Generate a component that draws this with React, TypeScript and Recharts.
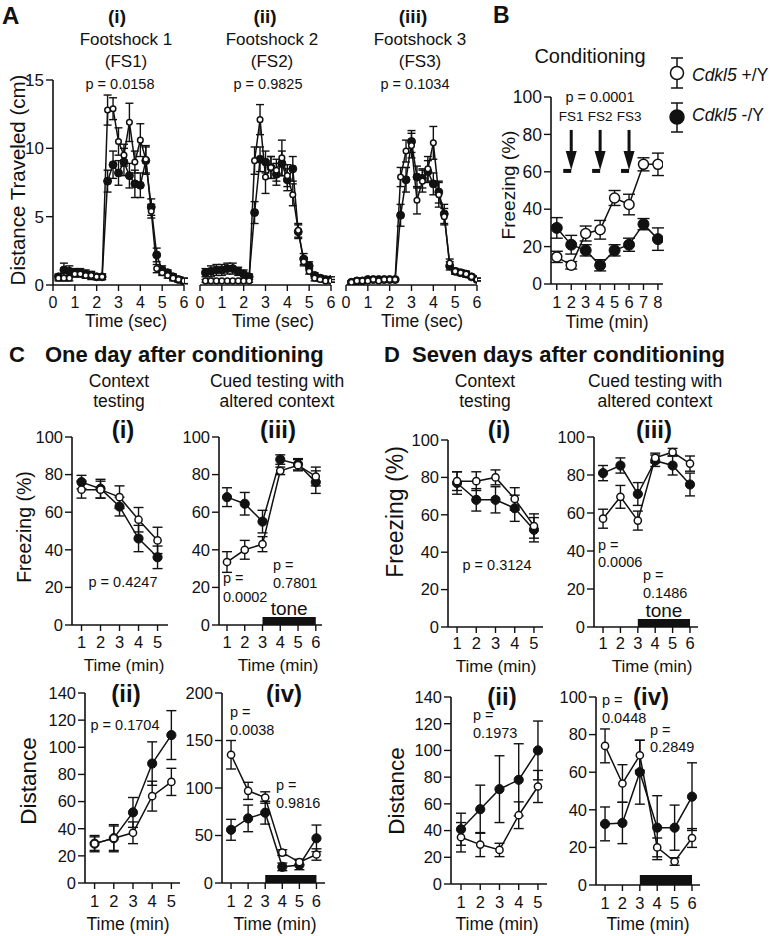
import React from "react";
import { LineChart, Line, XAxis, YAxis, ErrorBar, ReferenceArea, ReferenceDot } from "recharts";

const FONT = "'Liberation Sans', Arial, Helvetica, sans-serif";
const INK = "#111";

// ---- A: distance traveled around each footshock, 0.25 s bins ----
const A_TIME = [0.25, 0.5, 0.75, 1, 1.25, 1.5, 1.75, 2, 2.25, 2.5, 2.75, 3, 3.25, 3.5, 3.75, 4, 4.25, 4.5, 4.75, 5, 5.25, 5.5, 5.75, 6];
const A_TICKS = [0, 1, 2, 3, 4, 5, 6];
const A_Y_TICKS = [0, 5, 10, 15];

const A1_WT = [0.5, 0.5, 0.5, 0.8, 0.8, 0.7, 0.7, 0.6, 0.6, 12.8, 12.9, 10.5, 9.5, 11.9, 9.0, 10.6, 9.2, 5.4, 1.2, 0.9, 0.7, 0.5, 0.4, 0.3];
const A1_WT_ERR = [0.2, 0.2, 0.2, 0.2, 0.2, 0.2, 0.2, 0.2, 0.2, 1.1, 0.8, 1.0, 0.8, 1.4, 0.8, 1.2, 1.0, 0.5, 0.3, 0.2, 0.2, 0.2, 0.2, 0.2];
const A1_KO = [0.6, 1.1, 1.0, 0.9, 0.9, 0.8, 0.7, 0.6, 0.6, 7.6, 8.8, 8.2, 9.0, 8.0, 7.4, 7.3, 9.1, 5.7, 2.2, 1.1, 0.9, 0.6, 0.4, 0.3];
const A1_KO_ERR = [0.2, 0.5, 0.4, 0.3, 0.3, 0.3, 0.3, 0.2, 0.2, 0.8, 1.0, 0.9, 1.0, 0.9, 1.0, 0.9, 1.0, 0.6, 0.5, 0.3, 0.2, 0.2, 0.2, 0.2];

const A2_WT = [0.3, 0.3, 0.3, 0.3, 0.3, 0.3, 0.3, 0.3, 0.3, 9.1, 12.1, 7.9, 8.6, 8.4, 9.3, 8.0, 6.6, 4.0, 1.7, 1.0, 0.5, 0.4, 0.3, 0.3];
const A2_WT_ERR = [0.1, 0.1, 0.1, 0.1, 0.1, 0.1, 0.1, 0.1, 0.1, 1.0, 1.1, 1.2, 0.8, 0.8, 1.3, 0.8, 0.8, 0.5, 0.3, 0.2, 0.2, 0.1, 0.1, 0.1];
const A2_KO = [0.9, 1.0, 1.1, 1.1, 1.2, 1.2, 1.0, 0.8, 0.6, 5.3, 9.2, 9.0, 8.6, 8.1, 8.9, 7.7, 8.5, 3.9, 1.9, 1.4, 0.7, 0.5, 0.4, 0.4];
const A2_KO_ERR = [0.3, 0.4, 0.4, 0.4, 0.4, 0.4, 0.3, 0.3, 0.2, 0.8, 0.9, 0.8, 0.8, 0.8, 0.9, 0.8, 0.9, 0.5, 0.4, 0.3, 0.2, 0.2, 0.2, 0.2];

const A3_WT = [0.2, 0.3, 0.3, 0.3, 0.4, 0.3, 0.4, 0.4, 0.4, 7.9, 9.8, 10.2, 6.2, 7.6, 8.5, 10.4, 6.6, 5.0, 1.6, 1.0, 0.9, 0.8, 0.6, 0.4];
const A3_WT_ERR = [0.1, 0.1, 0.1, 0.1, 0.1, 0.1, 0.1, 0.1, 0.1, 0.7, 0.8, 0.9, 1.0, 0.8, 0.9, 1.2, 0.9, 0.6, 0.3, 0.2, 0.2, 0.2, 0.1, 0.1];
const A3_KO = [0.2, 0.3, 0.3, 0.4, 0.4, 0.4, 0.4, 0.4, 0.4, 5.1, 7.7, 10.5, 7.9, 7.8, 8.3, 7.4, 6.8, 5.2, 1.4, 1.0, 0.9, 0.8, 0.6, 0.4];
const A3_KO_ERR = [0.1, 0.1, 0.1, 0.1, 0.1, 0.1, 0.1, 0.1, 0.1, 0.8, 0.9, 0.8, 0.8, 0.7, 0.8, 0.8, 0.8, 0.7, 0.3, 0.2, 0.2, 0.2, 0.1, 0.1];

// ---- B: freezing during conditioning ----
const B_TIME = [1, 2, 3, 4, 5, 6, 7, 8];
const B_WT = [14.5, 10, 27, 29, 46, 42.5, 64, 64];
const B_WT_ERR = [3, 2, 4, 5, 4, 5.5, 3.5, 6];
const B_KO = [30, 21, 18, 10, 18, 21, 32, 24];
const B_KO_ERR = [5.5, 5, 3, 3, 3, 3.5, 3, 6];
const B_SHOCK_AT = [2, 4, 6];
const B_SHOCK_LABELS = ["FS1", "FS2", "FS3"];
const B_ARROW_TIP = 61;

// ---- C / D: context and cued testing ----
const T5 = [1, 2, 3, 4, 5];
const T6 = [1, 2, 3, 4, 5, 6];
const PCT_TICKS = [0, 20, 40, 60, 80, 100];
const DIST140_TICKS = [0, 20, 40, 60, 80, 100, 120, 140];
const DIST200_TICKS = [0, 50, 100, 150, 200];

const C1_WT = [72, 72, 68, 56, 45];
const C1_WT_ERR = [4.5, 4.5, 6, 6.5, 7];
const C1_KO = [76, 72.5, 63, 46, 36];
const C1_KO_ERR = [3.6, 5, 5, 7, 6];

const C3_WT = [33.5, 40, 43, 82, 85, 79];
const C3_WT_ERR = [5.5, 5, 4, 2, 3, 5];
const C3_KO = [68, 64.5, 55, 88, 85.5, 76];
const C3_KO_ERR = [5, 6, 6, 2.5, 3, 6];

const C2_WT = [29, 33, 37, 64, 74.5];
const C2_WT_ERR = [5, 10, 8, 11, 10];
const C2_KO = [29, 33, 52, 88, 109];
const C2_KO_ERR = [6, 9, 11, 16, 18];

const C4_WT = [135, 97, 90, 32, 22, 30];
const C4_WT_ERR = [15, 9, 6, 3, 3, 6];
const C4_KO = [56, 68, 74, 17, 19, 47];
const C4_KO_ERR = [11, 14, 12, 4, 5, 14];

const D1_WT = [78, 78, 80, 68.5, 54];
const D1_WT_ERR = [5, 5, 4, 6, 6.5];
const D1_KO = [77, 68, 68, 63.5, 52];
const D1_KO_ERR = [6, 6, 7, 7, 6.5];

const D3_WT = [57, 68.5, 56, 89, 92, 86];
const D3_WT_ERR = [5, 6, 5, 2.5, 2, 4];
const D3_KO = [81, 85, 70, 87.5, 85, 75];
const D3_KO_ERR = [4, 4, 6, 3, 5, 6];

const D2_WT = [35, 29.5, 25.5, 51.5, 73];
const D2_WT_ERR = [11, 9, 5, 10, 12];
const D2_KO = [41, 56, 71, 78, 100];
const D2_KO_ERR = [12, 18, 25, 27, 22];

const D4_WT = [74, 54, 69, 20, 12.5, 25];
const D4_WT_ERR = [9, 10, 8, 5, 2, 5];
const D4_KO = [32.5, 33, 60, 30.5, 30.5, 47];
const D4_KO_ERR = [9, 11, 17, 17, 12, 18];

type Row = { x: number; wt: number; wtErr: number; ko: number; koErr: number };
type Box = { l: number; r: number; t: number; b: number };

const toRows = (x: number[], wt: number[], wtErr: number[], ko: number[], koErr: number[]): Row[] =>
  x.map((v, i) => ({ x: v, wt: wt[i], wtErr: wtErr[i], ko: ko[i], koErr: koErr[i] }));

function Panel({
  box, data, xDomain, xTicks, yDomain, yTicks, hideY = false, font = 16.5, yFont, xGap = 7,
  open = 3.6, filled = 4.6, cap = 5, children,
}: {
  box: Box; data: Row[]; xDomain: [number, number]; xTicks: number[]; yDomain: [number, number]; yTicks: number[];
  hideY?: boolean; font?: number; yFont?: number; xGap?: number; open?: number; filled?: number; cap?: number;
  children?: React.ReactNode;
}) {
  const YW = hideY ? 0 : 46;
  const ML = 14, MR = 14, MT = 12, XH = 40;
  const w = box.r - box.l;
  const h = box.b - box.t;
  const tickStyle = { fill: INK, fontSize: font, fontFamily: FONT };
  const axisLine = { stroke: INK, strokeWidth: 1.6 };
  const tickLine = { stroke: INK, strokeWidth: 1.4 };
  return (
    <div style={{ position: "absolute", left: box.l - YW - ML, top: box.t - MT }}>
      <LineChart width={ML + YW + w + MR} height={MT + h + XH} data={data} margin={{ top: MT, right: MR, bottom: 0, left: ML }}>
        <XAxis type="number" dataKey="x" domain={xDomain} ticks={xTicks} interval={0} allowDataOverflow height={XH}
          axisLine={axisLine} tickLine={tickLine} tickSize={6} tickMargin={xGap} tick={tickStyle} />
        <YAxis type="number" domain={yDomain} ticks={yTicks} interval={0} allowDataOverflow width={YW} hide={hideY}
          axisLine={axisLine} tickLine={tickLine} tickSize={7} tickMargin={2} tick={{ ...tickStyle, fontSize: yFont ?? font }} />
        {children}
        <Line dataKey="ko" type="linear" stroke={INK} strokeWidth={1.5} isAnimationActive={false} activeDot={false}
          dot={{ r: filled, fill: INK, stroke: INK, strokeWidth: 1 }}>
          <ErrorBar dataKey="koErr" width={cap} stroke={INK} strokeWidth={1.4} direction="y" isAnimationActive={false} />
        </Line>
        <Line dataKey="wt" type="linear" stroke={INK} strokeWidth={1.5} isAnimationActive={false} activeDot={false}
          dot={{ r: open, fill: "#fff", stroke: INK, strokeWidth: 1.5 }}>
          <ErrorBar dataKey="wtErr" width={cap} stroke={INK} strokeWidth={1.4} direction="y" isAnimationActive={false} />
        </Line>
      </LineChart>
    </div>
  );
}

const shockArrow = (label: string) => (p: any) => {
  const { cx, cy } = p;
  return (
    <g>
      <line x1={cx} y1={cy - 40} x2={cx} y2={cy - 18} stroke={INK} strokeWidth={3} />
      <polygon points={`${cx - 5.5},${cy - 19} ${cx + 5.5},${cy - 19} ${cx},${cy}`} fill={INK} />
      <rect x={cx - 8} y={cy - 1} width={8} height={4} fill={INK} />
      <text x={cx} y={cy - 49} textAnchor="middle" fontSize={13.5} fontFamily={FONT} fill={INK}>{label}</text>
    </g>
  );
};

function toneArea(top: number, showLabel: boolean) {
  return (
    <ReferenceArea x1={3} x2={6} y1={0} y2={top} fill={INK} fillOpacity={1} stroke="none" ifOverflow="visible"
      label={showLabel ? { value: "tone", position: "top", offset: 2, fill: INK, fontSize: 19, fontFamily: FONT } : undefined} />
  );
}

function T({ x, y, s = 16, bold = false, anchor = "middle", rot = false, children }: {
  x: number; y: number; s?: number; bold?: boolean; anchor?: "start" | "middle" | "end"; rot?: boolean; children: React.ReactNode;
}) {
  return (
    <text x={x} y={y} fontSize={s} fontWeight={bold ? 700 : 400} textAnchor={anchor} fill={INK} fontFamily={FONT}
      transform={rot ? `rotate(-90 ${x} ${y})` : undefined} dominantBaseline={rot ? "central" : undefined}>
      {children}
    </text>
  );
}

export default function App() {
  const bRows = toRows(B_TIME, B_WT, B_WT_ERR, B_KO, B_KO_ERR);
  return (
    <div style={{ position: "absolute", left: 0, top: 0, width: 770, height: 936, background: "#fff", overflow: "hidden" }}>
      {/* A */}
      <Panel box={{ l: 53, r: 184, t: 80, b: 285 }} data={toRows(A_TIME, A1_WT, A1_WT_ERR, A1_KO, A1_KO_ERR)}
        xDomain={[0, 6]} xTicks={A_TICKS} yDomain={[0, 15]} yTicks={A_Y_TICKS} font={16} yFont={17} xGap={6}
        open={2.8} filled={4} cap={4} />
      <Panel box={{ l: 200, r: 331, t: 80, b: 285 }} data={toRows(A_TIME, A2_WT, A2_WT_ERR, A2_KO, A2_KO_ERR)}
        xDomain={[0, 6]} xTicks={A_TICKS} yDomain={[0, 15]} yTicks={A_Y_TICKS} hideY font={16} xGap={6}
        open={2.8} filled={4} cap={4} />
      <Panel box={{ l: 346, r: 477, t: 80, b: 285 }} data={toRows(A_TIME, A3_WT, A3_WT_ERR, A3_KO, A3_KO_ERR)}
        xDomain={[0, 6]} xTicks={A_TICKS} yDomain={[0, 15]} yTicks={A_Y_TICKS} hideY font={16} xGap={6}
        open={2.8} filled={4} cap={4} />

      {/* B */}
      <Panel box={{ l: 551, r: 663, t: 97, b: 284 }} data={bRows}
        xDomain={[0.6, 8.35]} xTicks={B_TIME} yDomain={[0, 100]} yTicks={PCT_TICKS} font={16.5} yFont={17.5} xGap={6}
        open={5} filled={5.5} cap={6}>
        {B_SHOCK_AT.map((t, i) => (
          <ReferenceDot key={t} x={t} y={B_ARROW_TIP} r={0} ifOverflow="visible" shape={shockArrow(B_SHOCK_LABELS[i])} />
        ))}
      </Panel>

      {/* C */}
      <Panel box={{ l: 72, r: 168, t: 437, b: 625 }} data={toRows(T5, C1_WT, C1_WT_ERR, C1_KO, C1_KO_ERR)}
        xDomain={[0.5, 5.55]} xTicks={T5} yDomain={[0, 100]} yTicks={PCT_TICKS} xGap={5} />
      <Panel box={{ l: 219, r: 322, t: 437, b: 625 }} data={toRows(T6, C3_WT, C3_WT_ERR, C3_KO, C3_KO_ERR)}
        xDomain={[0.55, 6.35]} xTicks={T6} yDomain={[0, 100]} yTicks={PCT_TICKS} xGap={5}>
        {toneArea(4.2, true)}
      </Panel>
      <Panel box={{ l: 85, r: 180, t: 693, b: 883 }} data={toRows(T5, C2_WT, C2_WT_ERR, C2_KO, C2_KO_ERR)}
        xDomain={[0.5, 5.45]} xTicks={T5} yDomain={[0, 140]} yTicks={DIST140_TICKS} xGap={6} />
      <Panel box={{ l: 222, r: 325, t: 693, b: 883 }} data={toRows(T6, C4_WT, C4_WT_ERR, C4_KO, C4_KO_ERR)}
        xDomain={[0.47, 6.5]} xTicks={T6} yDomain={[0, 200]} yTicks={DIST200_TICKS} xGap={6}>
        {toneArea(8.4, false)}
      </Panel>

      {/* D */}
      <Panel box={{ l: 448, r: 543, t: 440, b: 627 }} data={toRows(T5, D1_WT, D1_WT_ERR, D1_KO, D1_KO_ERR)}
        xDomain={[0.53, 5.47]} xTicks={T5} yDomain={[0, 100]} yTicks={PCT_TICKS} xGap={4} />
      <Panel box={{ l: 594, r: 698, t: 437, b: 627 }} data={toRows(T6, D3_WT, D3_WT_ERR, D3_KO, D3_KO_ERR)}
        xDomain={[0.48, 6.46]} xTicks={T6} yDomain={[0, 100]} yTicks={PCT_TICKS} xGap={4}>
        {toneArea(4.2, true)}
      </Panel>
      <Panel box={{ l: 451, r: 547, t: 697, b: 884 }} data={toRows(T5, D2_WT, D2_WT_ERR, D2_KO, D2_KO_ERR)}
        xDomain={[0.48, 5.47]} xTicks={T5} yDomain={[0, 140]} yTicks={DIST140_TICKS} xGap={6} />
      <Panel box={{ l: 596, r: 700, t: 697, b: 885 }} data={toRows(T6, D4_WT, D4_WT_ERR, D4_KO, D4_KO_ERR)}
        xDomain={[0.48, 6.46]} xTicks={T6} yDomain={[0, 100]} yTicks={PCT_TICKS} xGap={6}>
        {toneArea(5.3, false)}
      </Panel>

      {/* annotations */}
      <svg width={770} height={936} style={{ position: "absolute", left: 0, top: 0, pointerEvents: "none" }}>
        <T x={2} y={24} s={24} bold anchor="start">A</T>
        <T x={117} y={23} s={19} bold>(i)</T>
        <T x={126} y={45} s={17}>Footshock 1</T>
        <T x={126} y={67} s={17}>(FS1)</T>
        <T x={120} y={89} s={14.5}>p = 0.0158</T>
        <T x={265} y={23} s={19} bold>(ii)</T>
        <T x={272} y={45} s={17}>Footshock 2</T>
        <T x={272} y={67} s={17}>(FS2)</T>
        <T x={268} y={89} s={14.5}>p = 0.9825</T>
        <T x={413} y={23} s={19} bold>(iii)</T>
        <T x={420} y={45} s={17}>Footshock 3</T>
        <T x={420} y={67} s={17}>(FS3)</T>
        <T x={415} y={89} s={14.5}>p = 0.1034</T>
        <T x={17} y={180} s={20.5} rot>Distance Traveled (cm)</T>
        <T x={126} y={327} s={17.5}>Time (sec)</T>
        <T x={273} y={327} s={17.5}>Time (sec)</T>
        <T x={422} y={327} s={17.5}>Time (sec)</T>

        <T x={493} y={23} s={23} bold anchor="start">B</T>
        <T x={590} y={63} s={20}>Conditioning</T>
        <T x={600} y={102} s={14.5}>p = 0.0001</T>
        <T x={508} y={185} s={19} rot>Freezing (%)</T>
        <T x={607} y={328} s={17.5}>Time (min)</T>
        <g stroke={INK} strokeWidth={1.5}>
          <line x1={677} y1={58} x2={677} y2={88} />
          <line x1={671} y1={58} x2={683} y2={58} />
          <line x1={671} y1={88} x2={683} y2={88} />
          <circle cx={677} cy={73} r={6.5} fill="#fff" />
          <line x1={677} y1={103} x2={677} y2={132} />
          <line x1={671} y1={103} x2={683} y2={103} />
          <line x1={671} y1={132} x2={683} y2={132} />
          <circle cx={677} cy={117} r={7} fill={INK} />
        </g>
        <T x={692} y={81} s={17.5} anchor="start"><tspan fontStyle="italic">Cdkl5</tspan>{" +/Y"}</T>
        <T x={692} y={121} s={17.5} anchor="start"><tspan fontStyle="italic">Cdkl5</tspan>{" -/Y"}</T>

        <T x={9} y={362} s={22} bold anchor="start">C</T>
        <T x={45} y={362} s={22} bold anchor="start">One day after conditioning</T>
        <T x={119} y={387} s={17.5}>Context</T>
        <T x={119} y={407} s={17.5}>testing</T>
        <T x={123} y={438} s={24} bold>(i)</T>
        <T x={277} y={387} s={17.5}>Cued testing with</T>
        <T x={277} y={407} s={17.5}>altered context</T>
        <T x={278} y={438} s={24} bold>(iii)</T>
        <T x={24} y={527} s={19.5} rot>Freezing (%)</T>
        <T x={123} y={587} s={14.5}>p = 0.4247</T>
        <T x={223} y={583} s={14.5} anchor="start">p =</T>
        <T x={223} y={602} s={14.5} anchor="start">0.0002</T>
        <T x={273} y={570} s={14.5} anchor="start">p =</T>
        <T x={273} y={588} s={14.5} anchor="start">0.7801</T>
        <T x={124} y={671} s={17}>Time (min)</T>
        <T x={278} y={671} s={17}>Time (min)</T>
        <T x={126} y={702} s={24} bold>(ii)</T>
        <T x={284} y={702} s={24} bold>(iv)</T>
        <T x={125} y={730} s={14.5}>p = 0.1704</T>
        <T x={230} y={717} s={14.5} anchor="start">p =</T>
        <T x={230} y={735} s={14.5} anchor="start">0.0038</T>
        <T x={276} y={790} s={14.5} anchor="start">p =</T>
        <T x={276} y={808} s={14.5} anchor="start">0.9816</T>
        <T x={28} y={781} s={22.5} rot>Distance</T>
        <T x={128} y={930} s={17.5}>Time (min)</T>
        <T x={275} y={930} s={17.5}>Time (min)</T>

        <T x={384} y={362} s={22} bold anchor="start">D</T>
        <T x={412} y={362} s={22} bold anchor="start">Seven days after conditioning</T>
        <T x={485} y={387} s={17.5}>Context</T>
        <T x={485} y={407} s={17.5}>testing</T>
        <T x={499} y={438} s={24} bold>(i)</T>
        <T x={655} y={387} s={17.5}>Cued testing with</T>
        <T x={655} y={407} s={17.5}>altered context</T>
        <T x={654} y={438} s={24} bold>(iii)</T>
        <T x={395} y={512} s={23} rot>Freezing (%)</T>
        <T x={497} y={570} s={14.5}>p = 0.3124</T>
        <T x={598} y={550} s={14.5} anchor="start">p =</T>
        <T x={598} y={567} s={14.5} anchor="start">0.0006</T>
        <T x={643} y={580} s={14.5} anchor="start">p =</T>
        <T x={643} y={598} s={14.5} anchor="start">0.1486</T>
        <T x={496} y={672} s={17}>Time (min)</T>
        <T x={652} y={672} s={17}>Time (min)</T>
        <T x={502} y={705} s={24} bold>(ii)</T>
        <T x={651} y={705} s={24} bold>(iv)</T>
        <T x={473} y={720} s={14.5} anchor="start">p =</T>
        <T x={473} y={738} s={14.5} anchor="start">0.1973</T>
        <T x={602} y={705} s={14.5} anchor="start">p =</T>
        <T x={602} y={723} s={14.5} anchor="start">0.0448</T>
        <T x={650} y={735} s={14.5} anchor="start">p =</T>
        <T x={650} y={752} s={14.5} anchor="start">0.2849</T>
        <T x={396} y={791} s={22.5} rot>Distance</T>
        <T x={497} y={930} s={17.5}>Time (min)</T>
        <T x={648} y={930} s={17.5}>Time (min)</T>
      </svg>
    </div>
  );
}
